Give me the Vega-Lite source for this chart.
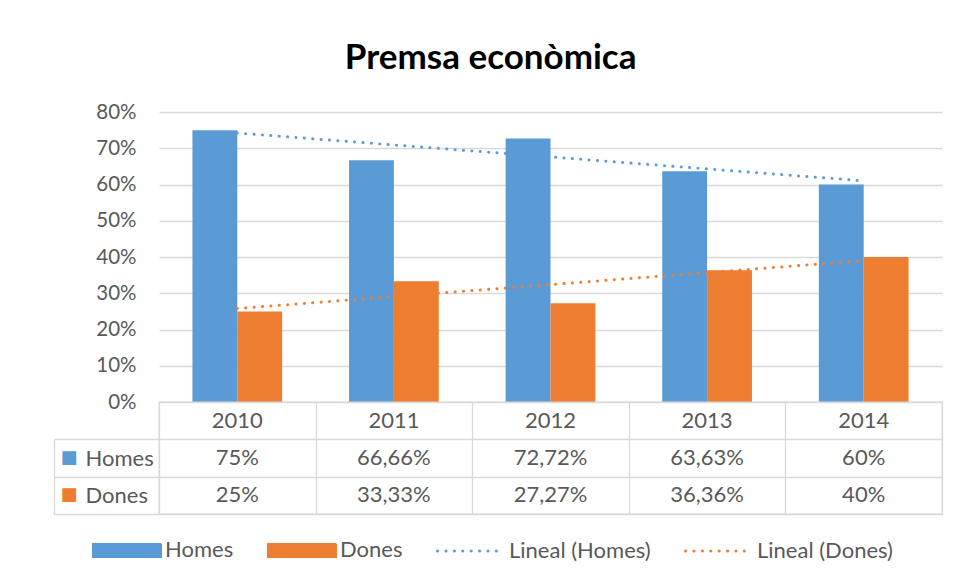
{
  "$schema": "https://vega.github.io/schema/vega-lite/v6.json",
  "background": "white",
  "padding": {"left": 52, "top": 41, "right": 17, "bottom": 10},
  "bounds": "flush",
  "title": {"text": "Premsa econòmica", "font": "Lato", "fontSize": 35, "fontWeight": "bold", "color": "#000000", "anchor": "middle", "frame": "bounds", "offset": 26, "dx": -7},
  "datasets": {
    "premsa": [
      {"year": 2010, "series": "Homes", "trend": "Lineal (Homes)", "value": 0.75},
      {"year": 2011, "series": "Homes", "trend": "Lineal (Homes)", "value": 0.6666},
      {"year": 2012, "series": "Homes", "trend": "Lineal (Homes)", "value": 0.7272},
      {"year": 2013, "series": "Homes", "trend": "Lineal (Homes)", "value": 0.6363},
      {"year": 2014, "series": "Homes", "trend": "Lineal (Homes)", "value": 0.60},
      {"year": 2010, "series": "Dones", "trend": "Lineal (Dones)", "value": 0.25},
      {"year": 2011, "series": "Dones", "trend": "Lineal (Dones)", "value": 0.3333},
      {"year": 2012, "series": "Dones", "trend": "Lineal (Dones)", "value": 0.2727},
      {"year": 2013, "series": "Dones", "trend": "Lineal (Dones)", "value": 0.3636},
      {"year": 2014, "series": "Dones", "trend": "Lineal (Dones)", "value": 0.40}
    ]
  },
  "spacing": 0,
  "vconcat": [
    {
      "width": 783,
      "height": 290,
      "data": {"name": "premsa"},
      "encoding": {
        "x": {"field": "year", "type": "ordinal", "axis": null, "scale": {"paddingInner": 0.427, "paddingOuter": 0.2135}},
        "y": {"field": "value", "type": "quantitative", "scale": {"domain": [0, 0.8], "nice": false},
          "axis": {"format": ".0%", "values": [0, 0.1, 0.2, 0.3, 0.4, 0.5, 0.6, 0.7, 0.8], "labelOverlap": false, "domain": false, "ticks": false, "labelPadding": 23, "labelFont": "Lato", "labelFontSize": 20.5, "labelColor": "#595959", "grid": true, "gridColor": "#D9D9D9", "gridWidth": 1.3, "title": null}}
      },
      "layer": [
        {
          "mark": {"type": "bar"},
          "encoding": {
            "xOffset": {"field": "series", "type": "nominal", "sort": ["Homes", "Dones"]},
            "color": {"field": "series", "type": "nominal",
              "scale": {"domain": ["Homes", "Dones", "Lineal (Homes)", "Lineal (Dones)"], "range": ["#5B9BD5", "#ED7D31", "#5B9BD5", "#ED7D31"]},
              "legend": {"title": null, "orient": "none", "legendX": -67, "legendY": 403, "direction": "horizontal", "columns": 4,
                "labelFont": "Lato", "labelFontSize": 22, "labelColor": "#595959", "labelOffset": 3, "columnPadding": 28,
                "symbolSize": 4489, "symbolStrokeWidth": 3,
                "encode": {"symbols": {"update": {
                  "size": {"value": 4489},
                  "shape": {"signal": "test(/Lineal/, datum.value) ? 'M-1,0H1' : 'M-1,-0.18H1V0.18H-1Z'"},
                  "fill": {"signal": "test(/Lineal/, datum.value) ? 'transparent' : scale('color', datum.value)"},
                  "stroke": {"signal": "test(/Lineal/, datum.value) ? scale('color', datum.value) : 'transparent'"},
                  "strokeDash": {"signal": "test(/Lineal/, datum.value) ? [0.1, 8.3] : [1, 0]"},
                  "strokeCap": {"value": "round"},
                  "opacity": {"value": 1}
                }}}
              }}
          }
        },
        {
          "transform": [{"regression": "value", "on": "year", "groupby": ["series", "trend"]}],
          "mark": {"type": "line", "strokeDash": [0.1, 8.3], "strokeCap": "round", "strokeWidth": 3},
          "encoding": {
            "color": {"field": "trend", "type": "nominal"}
          }
        }
      ]
    },
    {
      "width": 783,
      "height": 112,
      "data": {"name": "premsa"},
      "view": {"stroke": "#D9D9D9", "strokeWidth": 1.3},
      "resolve": {"axis": {"y": "independent"}},
      "layer": [
        {
          "mark": {"type": "text", "font": "Lato", "fontSize": 22, "color": "#595959", "baseline": "middle"},
          "encoding": {
            "x": {"field": "year", "type": "ordinal", "scale": {"paddingInner": 0, "paddingOuter": 0},
              "axis": {"tickBand": "extent", "grid": true, "gridColor": "#D9D9D9", "gridWidth": 1.3, "labels": false, "ticks": false, "domain": false, "title": null}},
            "y": {"field": "series", "type": "nominal", "scale": {"domain": ["Any", "Homes", "Dones"], "paddingInner": 0, "paddingOuter": 0},
              "axis": {"orient": "left", "offset": 0, "title": null, "values": ["Homes", "Dones"], "tickBand": "extent", "grid": true, "gridColor": "#D9D9D9", "gridWidth": 1.3,
                "ticks": true, "tickSize": 105, "tickWidth": 1.3, "tickColor": "#D9D9D9",
                "domain": false, "labelAlign": "left", "labelPadding": -31,
                "labelFont": "Lato", "labelFontSize": 22, "labelColor": "#595959"}},
            "text": {"field": "value", "type": "quantitative", "format": ".2~%"}
          }
        },
        {
          "transform": [{"filter": "datum.series === 'Homes'"}],
          "mark": {"type": "text", "font": "Lato", "fontSize": 22, "color": "#595959", "baseline": "middle"},
          "encoding": {
            "x": {"field": "year", "type": "ordinal"},
            "y": {"datum": "Any", "type": "nominal",
              "axis": {"orient": "left", "offset": 0, "title": null, "values": ["Homes", "Dones"], "ticks": false, "domain": false, "grid": false,
                "labelPadding": 82, "labelFont": "DejaVu Sans", "labelFontSize": 18,
                "labelExpr": "'■'",
                "labelColor": {"condition": {"test": "datum.value === 'Homes'", "value": "#5B9BD5"}, "value": "#ED7D31"}}},
            "text": {"field": "year", "type": "ordinal"}
          }
        },
        {
          "mark": {"type": "point", "opacity": 0},
          "encoding": {
            "x": {"field": "year", "type": "ordinal"},
            "y": {"field": "series", "type": "nominal",
              "axis": {"orient": "left", "offset": 105, "title": null, "ticks": false, "labels": false, "grid": false,
                "domain": true, "domainColor": "#D9D9D9", "domainWidth": 1.3, "domainDash": [0, 37.3, 75, 0]}}
          }
        }
      ]
    }
  ],
  "config": {
    "view": {"stroke": null},
    "concat": {"spacing": 0},
    "locale": {"number": {"decimal": ",", "thousands": ".", "grouping": [3], "currency": ["", " €"]}}
  }
}
